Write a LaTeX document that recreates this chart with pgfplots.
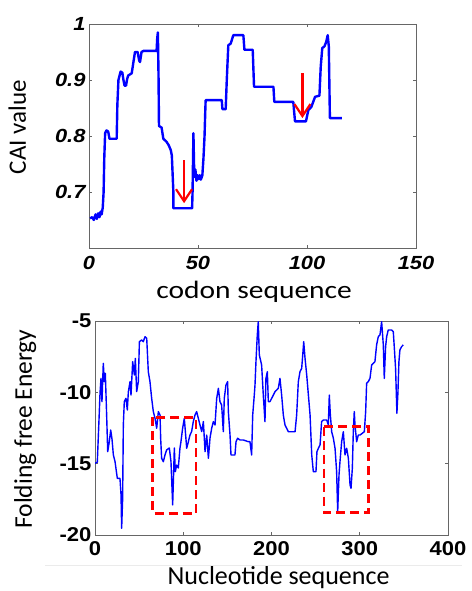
\documentclass[border=0pt]{standalone}
\usepackage{pgfplots}
\pgfplotsset{compat=1.18}
\usetikzlibrary{arrows.meta}
\usepackage{fontspec}
\setmainfont{Liberation Sans}
\newfontfamily\tickfontA[FakeStretch=1.15]{Liberation Sans}
\newfontfamily\tickfontB[FakeStretch=1.1]{Liberation Sans}
\newfontfamily\labA[FakeStretch=1.18]{Carlito}
\newfontfamily\labB{Carlito}

\pgfplotstableread{
x y
0.5 0.653
1.5 0.655
2.2 0.650
3.0 0.660
3.6 0.652
4.2 0.662
4.8 0.655
5.3 0.665
5.8 0.660
6.3 0.672
6.7 0.700
7.0 0.760
7.4 0.805
8.0 0.810
8.8 0.808
9.4 0.795
12.7 0.795
13.0 0.855
13.5 0.900
14.5 0.915
15.3 0.913
15.8 0.900
16.3 0.890
17.0 0.890
17.5 0.902
18.0 0.908
19.6 0.912
20.3 0.930
21.1 0.950
22.3 0.950
23.0 0.935
23.4 0.932
24.1 0.950
25.0 0.952
31.0 0.952
31.3 0.975
31.6 0.985
31.9 0.905
32.1 0.818
33.3 0.815
34.1 0.795
35.5 0.790
36.5 0.784
37.5 0.775
38.0 0.765
38.7 0.700
38.7 0.671
47.3 0.671
47.5 0.700
47.9 0.805
48.3 0.727
48.8 0.740
49.3 0.720
49.8 0.730
50.3 0.723
50.8 0.730
51.3 0.722
52.0 0.730
52.5 0.760
53.0 0.800
53.3 0.840
53.5 0.864
60.9 0.864
61.2 0.848
62.7 0.848
63.2 0.900
63.9 0.962
65.0 0.965
66.2 0.980
70.8 0.980
71.3 0.954
75.1 0.954
75.7 0.888
84.6 0.888
85.0 0.861
93.7 0.861
94.5 0.826
99.5 0.826
100.6 0.846
102.0 0.852
103.7 0.870
105.7 0.872
106.3 0.924
107.0 0.957
108.0 0.960
108.8 0.968
109.5 0.980
110.0 0.960
110.5 0.832
116.0 0.832
}\caitable

\pgfplotstableread{
x y
0 -14.97
2.6 -14.9
4.9 -11.35
5.7 -10.05
6.8 -9.02
7.9 -10.65
9.4 -7.97
10.6 -9.25
11.7 -8.67
13.2 -11.6
14.4 -14.16
16.2 -13.46
17.8 -12.64
19.3 -13.3
20.8 -14.39
22.7 -14.86
25.3 -16.03
28.3 -16.03
29.5 -17.19
30.2 -19.53
31.3 -17.5
32.1 -12.29
33.2 -10.65
35.1 -10.42
36.6 -11.24
37.8 -9.95
39.7 -9.25
40.8 -10.19
42.7 -7.85
44.6 -8.78
45.7 -7.62
47.2 -9.95
49.1 -9.25
50.3 -6.45
52.9 -6.33
54.7 -6.45
56.7 -6.10
58.6 -6.21
60.4 -8.55
62.3 -9.25
64.2 -10.42
66.1 -11.35
68.0 -11.82
69.9 -12.52
71.8 -11.35
73.7 -11.59
74.4 -13.22
75.5 -14.62
77.4 -14.86
79.3 -14.39
81.2 -14.04
84.2 -13.9
86.1 -14.86
88.0 -17.89
88.8 -16.26
89.9 -13.9
91.0 -15.56
92.5 -15.1
94.4 -15.3
96.3 -13.9
97.4 -13.46
99.3 -12.52
101.2 -11.82
102.4 -12.75
103.9 -13.92
105.8 -13.46
107.6 -13.0
109.5 -12.75
111.4 -12.05
113.3 -11.59
115.2 -11.35
117.1 -11.82
119.0 -12.29
120.9 -12.75
122.8 -12.05
124.7 -14.16
126.6 -13.0
128.5 -14.62
130.3 -13.22
132.2 -12.52
134.1 -12.05
136.0 -12.29
137.9 -10.42
139.8 -9.72
141.6 -10.65
143.5 -10.89
145.4 -12.76
146.5 -10.42
148.4 -9.49
150.3 -9.25
151.1 -11.35
153.0 -12.99
154.1 -14.39
156.7 -14.39
158.6 -14.39
159.8 -13.46
161.6 -13.22
164.3 -13.34
168.1 -13.34
173.7 -13.46
175.6 -13.46
177.5 -14.39
178.7 -11.59
180.5 -10.19
181.3 -9.49
182.4 -7.85
183.9 -5.98
185.0 -5.05
186.2 -7.38
188.8 -8.08
190.7 -10.19
192.6 -12.05
193.7 -9.02
195.3 -8.55
196.4 -10.65
198.3 -10.65
200.2 -10.42
202.1 -10.19
204.0 -9.95
205.9 -9.84
207.7 -9.72
209.6 -9.02
211.5 -10.19
213.4 -11.59
215.3 -12.29
217.2 -12.52
219.1 -12.76
222.9 -12.76
226.7 -12.76
228.5 -11.59
230.4 -9.25
232.3 -8.55
234.2 -8.32
235.4 -7.38
236.5 -6.45
238.0 -7.62
239.9 -8.78
241.8 -10.19
243.7 -11.59
245.6 -14.39
247.4 -15.56
250.4 -15.56
251.5 -14.16
253.1 -13.92
255.0 -13.69
256.8 -12.05
258.7 -11.94
262.5 -11.94
264.4 -12.29
265.5 -10.19
266.7 -11.59
268.2 -12.76
270.1 -13.22
272.0 -13.92
273.8 -15.56
275.0 -18.36
276.5 -15.79
277.6 -14.86
279.5 -13.46
281.4 -12.76
283.3 -14.39
285.2 -13.92
287.1 -14.62
289.0 -16.49
290.1 -16.73
291.6 -15.32
292.7 -12.76
293.8 -11.35
294.6 -12.29
296.5 -13.46
298.4 -12.99
300.3 -12.99
302.9 -12.87
305.2 -12.76
306.7 -11.35
307.8 -9.37
309.7 -9.25
311.6 -9.02
313.5 -8.08
315.3 -7.97
317.2 -7.85
319.1 -6.68
321.0 -6.10
322.9 -5.98
324.8 -5.05
326.7 -6.68
327.8 -9.02
329.3 -6.80
330.5 -6.10
332.3 -5.63
336.1 -5.63
338.0 -5.75
339.1 -6.80
340.6 -8.32
342.1 -11.47
343.3 -9.95
344.4 -7.85
345.5 -7.03
347.4 -6.80
349.3 -6.68
}\energytable

\pgfplotsset{
  common/.style={
    scale only axis,
    axis line style={draw=black!60, line width=0.8pt},
    tick style={draw=black!60, line width=0.6pt},
    major tick length=3pt,
    tick align=inside,
    /pgf/number format/assume math mode=true,
    ticklabel style={text=black},
  }
}

\begin{document}
\begin{tikzpicture}[x=1pt,y=1pt]
\useasboundingbox (0,0) rectangle (471,591);

\begin{axis}[common,
  at={(89pt,343pt)}, anchor=south west,
  width=327pt, height=224pt,
  xmin=0, xmax=150, ymin=0.6, ymax=1,
  xtick={0,50,100,150}, ytick={0.7,0.8,0.9,1},
  ticklabel style={font=\tickfontA\bfseries\itshape\fontsize{19}{22}\selectfont},
  xticklabel style={yshift=-5pt},
  xlabel={codon sequence},
  xlabel style={font=\labA\fontsize{25}{28}\selectfont, at={(axis description cs:0.505,-0.196)}, anchor=center},
  ylabel={CAI value},
  ylabel style={font=\labB\fontsize{25}{28}\selectfont, at={(axis description cs:-0.219,0.54)}, anchor=center},
]
\addplot[blue, line width=2.4pt, line join=round] table[x=x,y=y] {\caitable};
\draw[red, line width=2.2pt, -{Straight Barb[length=12pt,width=16pt]}] (axis cs:43.6,0.757) -- (axis cs:43.6,0.680);
\draw[red, line width=2.2pt, -{Straight Barb[length=12pt,width=16pt]}] (axis cs:97.9,0.912) -- (axis cs:97.9,0.832);
\end{axis}

\begin{axis}[common,
  at={(95pt,56pt)}, anchor=south west,
  width=353pt, height=214pt,
  xmin=0, xmax=400, ymin=-20, ymax=-5,
  xtick={0,100,200,300,400}, ytick={-20,-15,-10,-5},
  ticklabel style={font=\tickfontB\bfseries\fontsize{20}{23}\selectfont},
  xticklabel style={yshift=-3pt},
  xlabel={Nucleotide sequence},
  xlabel style={font=\labB\fontsize{26}{29}\selectfont, at={(axis description cs:0.52,-0.197)}, anchor=center},
  ylabel={Folding free Energy},
  ylabel style={font=\labB\fontsize{25.5}{28}\selectfont, at={(axis description cs:-0.198,0.495)}, anchor=center},
]
\addplot[blue, line width=1.4pt, line join=round] table[x=x,y=y] {\energytable};
\draw[red, line width=2.8pt, dash pattern=on 9pt off 5pt] (axis cs:65.3,-11.75) rectangle (axis cs:114.4,-18.48);
\draw[red, line width=2.8pt, dash pattern=on 9pt off 5pt] (axis cs:259.5,-12.4) rectangle (axis cs:309.7,-18.43);
\end{axis}

\draw[black!8, line width=1pt] (45,25.3) -- (462,25.3);
\end{tikzpicture}
\end{document}
